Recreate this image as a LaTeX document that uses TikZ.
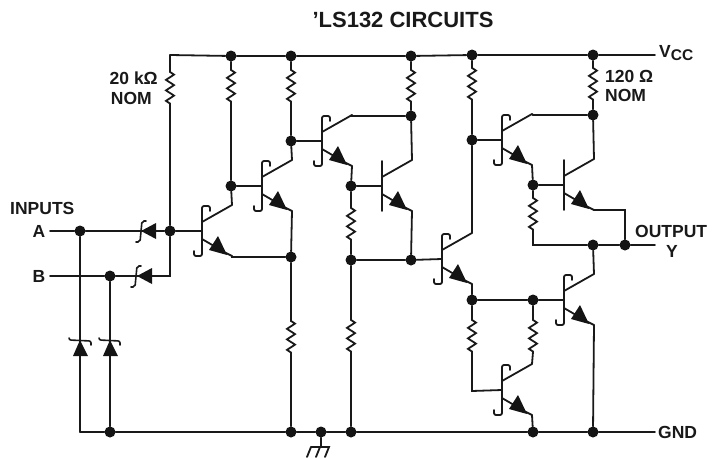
\documentclass[tikz,border=0pt]{standalone}
\usepackage{fontspec}
\setmainfont{Liberation Sans}
\usetikzlibrary{decorations.pathmorphing}
\tikzset{
  x=1pt,y=-1pt,
  wire/.style={line width=1.8pt,line join=miter,line cap=round,black!90},
  thin wire/.style={wire,line width=1.6pt},
  hook/.style={wire,rounded corners=2pt},
  dot/.style={circle,fill=black!92,inner sep=0pt,minimum size=11pt},
  lbl/.style={font=\bfseries\fontsize{17.5}{19}\selectfont,inner sep=0pt,black!90,align=center},
  zz/.style={decoration={zigzag,amplitude=4pt,segment length=10.5pt}},
  tip/.style={fill=black!92,draw=none}
}
% name, x, y of the base bar, schottky (1) or plain (0)
\newcommand\qnpn[4]{%
  \coordinate (#1-b) at (#2,#3);
  \coordinate (#1-c) at (#2+30,#3-26);
  \coordinate (#1-e) at (#2+30,#3+25);
  \ifnum#4=1
    \draw[hook] (#2+8,#3-20) -- (#2+8,#3-25) -- (#2,#3-25) -- (#2,#3+25) -- (#2-8,#3+25) -- (#2-8,#3+20);
  \else
    \draw[wire] (#2,#3-25) -- (#2,#3+25);
  \fi
  \draw[wire] (#2,#3-9) -- (#1-c);
  \draw[wire] (#2,#3+8) -- (#2+24,#3+22) -- (#1-e);
  \fill[tip] (#2+25,#3+24) -- (#2+7,#3+19) -- (#2+16,#3+5) -- cycle;
}
\begin{document}
\begin{tikzpicture}
\useasboundingbox (0,0) rectangle (716,458);
% junctions
\foreach \n/\x/\y in {
 va/231/56, vb/291/56, vc/411/56, vd/472/55, ve/593/55,
 ia/80/231, ib/110/276, ic/170/231,
 j1/231/186, j2/291/141, j3/291/257, j4/351/186, j5/351/260, j6/411/260,
 j7/411/116, j8/472/140, j9/593/115, j10/533/185, j11/593/245, j12/625/245,
 j13/472/300, j14/533/300,
 g1/110/432, g2/291/432, g3/321/432, g4/351/432, g5/533/432, g6/593/432}
 {\node[dot] (\n) at (\x,\y) {};}
% free ends
\foreach \n/\x/\y in {
 vs/170/55, vr/655/55, gl/80/432, gr/655/432, ina/50/231, inb/50/276, oy/655/245,
 bc/170/276, gg/320/447}
 {\coordinate (\n) at (\x,\y);}
% transistors
\qnpn{qa}{202}{231}{1}
\qnpn{qb}{262}{186}{1}
\qnpn{qc}{322}{141}{1}
\qnpn{qd}{382}{186}{0}
\qnpn{qe}{442}{259}{1}
\qnpn{qf}{502}{140}{1}
\qnpn{qg}{564}{185}{0}
\qnpn{qh}{564}{300}{1}
\qnpn{qi}{502}{390}{1}
% rails
\draw[wire] (vs) -- (va) -- (vb) -- (vc) -- (vd) -- (ve) -- (vr);
\draw[wire] (gl) -- (g1) -- (g2) -- (g3) -- (g4) -- (g5) -- (g6) -- (gr);
% inputs
\draw[wire] (ina) -- (ia) -- (ic) -- (qa-b);
\draw[wire] (inb) -- (ib) -- (bc) -- (ic);
\draw[wire] (ia) -- (gl);
\draw[wire] (ib) -- (g1);
% 20k
\draw[wire] (vs) -- (170,72) decorate[zz]{-- (170,104)} -- (ic);
% stage 1
\draw[wire] (va) -- (231,70) decorate[zz]{-- (231,102)} -- (j1);
\draw[wire] (j1) -- (qb-b);
\draw[wire] (j1) -- (qa-c);
\draw[wire] (qa-e) -- ++(0,1) -- (j3);
% stage 2
\draw[wire] (vb) -- (291,70) decorate[zz]{-- (291,102)} -- (j2);
\draw[wire] (j2) -- (qc-b);
\draw[wire] (j2) -- (qb-c);
\draw[wire] (qb-e) -- (j3);
\draw[wire] (j3) -- (291,321) decorate[zz]{-- (291,353)} -- (g2);
% stage 3
\draw[wire] (vc) -- (411,70) decorate[zz]{-- (411,102)} -- (j7);
\draw[wire] (qc-c) -- (351,116) -- (j7);
\draw[wire] (j7) -- (qd-c);
\draw[wire] (qc-e) -- (j4);
\draw[wire] (j4) -- (qd-b);
\draw[wire] (j4) -- (351,208) decorate[zz]{-- (351,240)} -- (j5);
\draw[wire] (j5) -- (351,320) decorate[zz]{-- (351,352)} -- (g4);
\draw[wire] (qd-e) -- (j6);
\draw[wire] (j5) -- (j6) -- (qe-b);
% stage 4
\draw[wire] (vd) -- (472,68) decorate[zz]{-- (472,101)} -- (j8);
\draw[wire] (j8) -- (qf-b);
\draw[wire] (j8) -- (qe-c);
\draw[wire] (ve) -- (593,68) decorate[zz]{-- (593,101)} -- (j9);
\draw[wire] (qf-c) -- (533,115) -- (j9);
\draw[wire] (j9) -- (qg-c);
\draw[wire] (qf-e) -- (j10);
\draw[wire] (j10) -- (qg-b);
\draw[wire] (j10) -- (533,198) decorate[zz]{-- (533,230)} -- (533,245) -- (j11);
\draw[wire] (j11) -- (j12) -- (oy);
\draw[wire] (qg-e) -- (625,210) -- (j12);
\draw[wire] (j11) -- (qh-c);
\draw[wire] (qe-e) -- (j13);
\draw[wire] (j13) -- (j14) -- (qh-b);
\draw[wire] (qh-e) -- (g6);
\draw[wire] (j13) -- (472,320) decorate[zz]{-- (472,352)} -- (472,391) -- (qi-b);
\draw[wire] (j14) -- (533,320) decorate[zz]{-- (533,352)} -- (qi-c);
\draw[wire] (qi-e) -- (g5);
% schottky input diodes
\fill[tip] (141,231) -- (156,223) -- (156,239) -- cycle;
\draw[hook,thin wire] (146,221) -- (142,221) -- (140,242) -- (136,242);
\fill[tip] (137,276) -- (152,268) -- (152,284) -- cycle;
\draw[hook,thin wire] (141,266) -- (137,266) -- (135,287) -- (131,287);
% clamp diodes
\fill[tip] (80,340) -- (73,356) -- (88,356) -- cycle;
\draw[hook,thin wire] (69,338) -- (69,340) -- (91,341) -- (91,345);
\fill[tip] (110,340) -- (103,356) -- (118,356) -- cycle;
\draw[hook,thin wire] (99,338) -- (99,340) -- (120,341) -- (120,345);
% chassis ground
\draw[wire] (g3) -- (321,447);
\draw[wire] (gg) ++(-9,0) -- ++(18,0) -- ++(-4,10);
\draw[wire] (gg) ++(-9,0) -- ++(-4,10);
\draw[wire] (gg) -- ++(-4,10);
% labels
\node[lbl,font=\bfseries\fontsize{22}{24}\selectfont] (title) at (403,20) {’LS132 CIRCUITS};
\node[lbl,anchor=west] (vcc) at (659,53) {V\raisebox{-2.5pt}{\fontsize{15.5}{15}\selectfont CC}};
\node[lbl,anchor=west] (gnd) at (658,432) {GND};
\node[lbl,anchor=west] (inputs) at (10,208) {INPUTS};
\node[lbl] (a) at (39,231) {A};
\node[lbl] (b) at (39,276) {B};
\node[lbl,anchor=east] (r1) at (158,78) {20 kΩ};
\node[lbl,anchor=east] (r1n) at (152,98) {NOM};
\node[lbl,anchor=west] (r2) at (605,76) {120 Ω};
\node[lbl,anchor=west] (r2n) at (605,95) {NOM};
\node[lbl,anchor=west] (out) at (635,231) {OUTPUT};
\node[lbl] (y) at (672,251) {Y};
\end{tikzpicture}
\end{document}
